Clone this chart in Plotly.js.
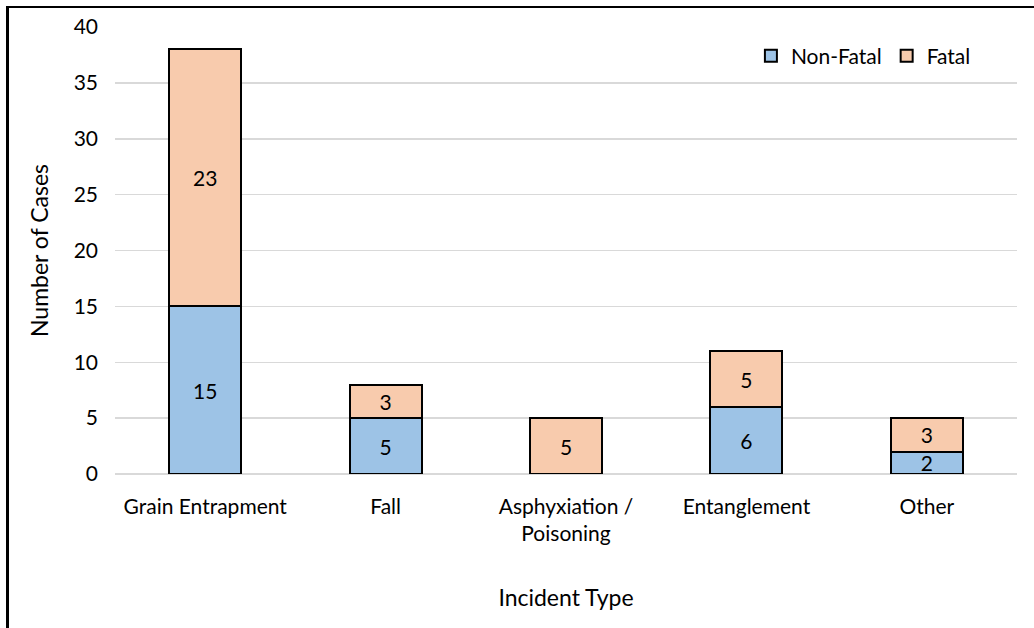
<!DOCTYPE html>
<html>
<head>
<meta charset="utf-8">
<script src="https://cdn.plot.ly/plotly-3.0.1.min.js"></script>
<style>
html,body{margin:0;padding:0;overflow:hidden;background:#fff;}
#chart{width:1034px;height:628px;}
#frame{position:absolute;left:6px;top:6px;width:1200px;height:800px;border-left:3px solid #000;border-top:2px solid #000;pointer-events:none;}
</style>
</head>
<body>
<div id="chart"></div>
<div id="frame"></div>
<script>
const categories = ["Grain Entrapment", "Fall", "Asphyxiation /<br>Poisoning", "Entanglement", "Other"];
const nonFatal = [15, 5, 0, 6, 2];
const fatal = [23, 3, 5, 5, 3];
const yTicks = [0, 5, 10, 15, 20, 25, 30, 35, 40];

const fam = "Lato, 'Open Sans', sans-serif";
const font = {family: fam, size: 21, color: "#000"};
const lbl = v => v.map(x => x === 0 ? "" : String(x));

const traces = [
  {type: "bar", name: "Non-Fatal", x: categories, y: nonFatal,
   text: lbl(nonFatal), textposition: "inside", insidetextanchor: "middle",
   textangle: 0, constraintext: "none",
   textfont: {family: fam, size: 21, color: "#000"},
   marker: {color: "#9dc3e6", line: {color: "#000", width: 2}}, hoverinfo: "none"},
  {type: "bar", name: "Fatal", x: categories, y: fatal,
   text: lbl(fatal), textposition: "inside", insidetextanchor: "middle",
   textangle: 0, constraintext: "none",
   textfont: {family: fam, size: 21, color: "#000"},
   marker: {color: "#f8cbad", line: {color: "#000", width: 2}}, hoverinfo: "none"}
];

const layout = {
  width: 1034, height: 628,
  margin: {l: 115, r: 17, t: 27, b: 154},
  barmode: "stack", bargap: 0.6,
  paper_bgcolor: "#fff", plot_bgcolor: "#fff",
  font: font,
  showlegend: true,
  legend: {orientation: "h", x: 0.705, y: 0.935, xanchor: "left", yanchor: "middle",
           font: {family: fam, size: 21, color: "#000"}, traceorder: "normal",
           itemwidth: 30, bgcolor: "rgba(0,0,0,0)"},
  xaxis: {type: "category", showgrid: false, showline: false, zeroline: false,
          ticks: "", tickfont: font, ticklabelstandoff: 18,
          title: {text: "Incident Type", font: {family: fam, size: 23, color: "#000"}, standoff: 45}},
  yaxis: {range: [0, 40], tickvals: yTicks, ticktext: yTicks.map(String),
          showgrid: true, gridcolor: "#d9d9d9", gridwidth: 1.5,
          zeroline: true, zerolinecolor: "#d9d9d9", zerolinewidth: 1.5,
          showline: false, ticks: "", tickfont: font, ticklabelstandoff: 16,
          title: {text: "Number of Cases", font: {family: fam, size: 23, color: "#000"}, standoff: 18}}
};

Plotly.newPlot("chart", traces, layout, {staticPlot: true, displayModeBar: false});
</script>
</body>
</html>
